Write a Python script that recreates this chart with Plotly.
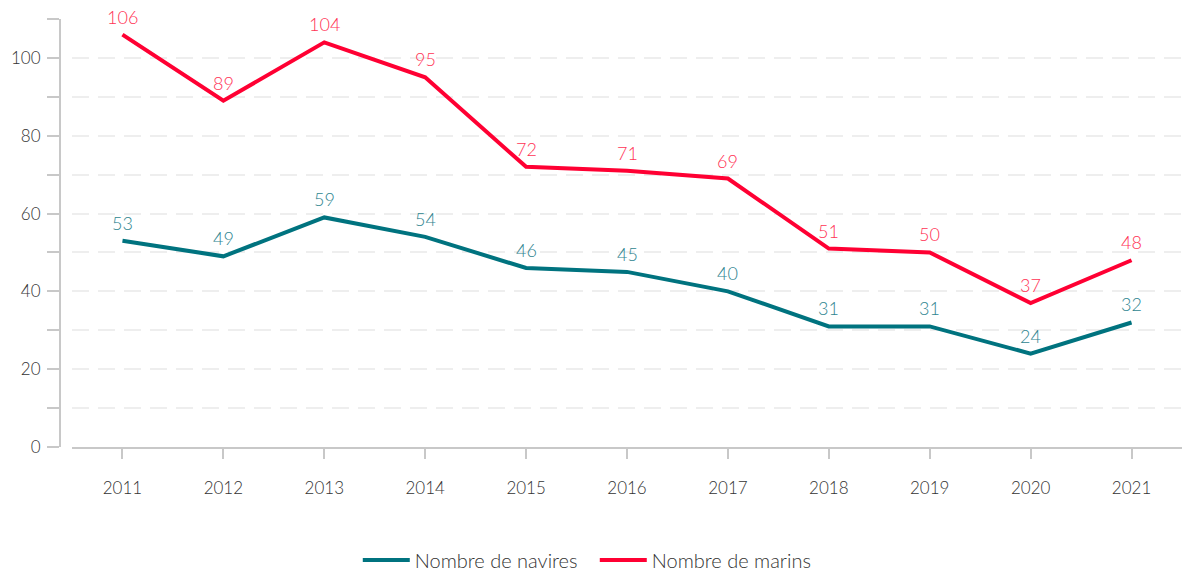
import plotly.graph_objects as go

years = [2011, 2012, 2013, 2014, 2015, 2016, 2017, 2018, 2019, 2020, 2021]
navires = [53, 49, 59, 54, 46, 45, 40, 31, 31, 24, 32]
marins = [106, 89, 104, 95, 72, 71, 69, 51, 50, 37, 48]
ytick_vals = [0, 10, 20, 30, 40, 50, 60, 70, 80, 90, 100, 110]
ytick_text = ["0", "", "20", "", "40", "", "60", "", "80", "", "100", ""]

teal = "#00737f"
red = "#ff0033"
FONT = "Lato"
W = 300

fig = go.Figure()
fig.add_trace(go.Scatter(
    x=years, y=navires, mode="lines", name="Nombre de navires",
    line=dict(color=teal, width=4),
))
fig.add_trace(go.Scatter(
    x=years, y=marins, mode="lines", name="Nombre de marins",
    line=dict(color=red, width=4),
))

for series, col in ((navires, "#2f8590"), (marins, "#ff3355")):
    for x, v in zip(years, series):
        fig.add_annotation(x=x, y=v, text=str(v), showarrow=False,
                           yanchor="bottom", yshift=5,
                           font=dict(color=col, size=18, family=FONT, weight=W))

fig.update_layout(
    width=1182, height=573,
    margin=dict(l=60, r=0, t=19, b=126, autoexpand=False),
    plot_bgcolor="white", paper_bgcolor="white",
    font=dict(family=FONT, size=17, color="#333333", weight=W),
    showlegend=True,
    legend=dict(orientation="h", x=0.5032, xanchor="center", xref="container",
                y=0.0227, yanchor="middle", yref="container",
                itemwidth=47, entrywidth=175, entrywidthmode="pixels",
                font=dict(size=20, color="#333333", family=FONT, weight=W)),
    xaxis=dict(
        domain=[0.0107, 1], range=[2010.5, 2021.5],
        tickvals=years, ticktext=[str(y) for y in years],
        showline=True, linecolor="#c8c8c8", linewidth=2,
        ticks="outside", ticklen=10, tickwidth=2, tickcolor="#c8c8c8",
        ticklabelstandoff=15,
        showgrid=False, zeroline=False, automargin=False,
        tickfont=dict(size=17, color="#333333", family=FONT, weight=W),
    ),
    yaxis=dict(
        anchor="free", position=0, range=[0, 110],
        tickvals=ytick_vals, ticktext=ytick_text,
        showline=True, linecolor="#c8c8c8", linewidth=2,
        ticks="outside", ticklen=12, tickwidth=2, tickcolor="#c8c8c8",
        ticklabelstandoff=3,
        showgrid=True, gridcolor="#eeeeee", gridwidth=2, griddash="17px,9px",
        zeroline=False, automargin=False,
        tickfont=dict(size=17, color="#333333", family=FONT, weight=W),
    ),
)

fig.write_html("out.html", config={"displayModeBar": False},
               post_script="document.body.style.margin='0';")
